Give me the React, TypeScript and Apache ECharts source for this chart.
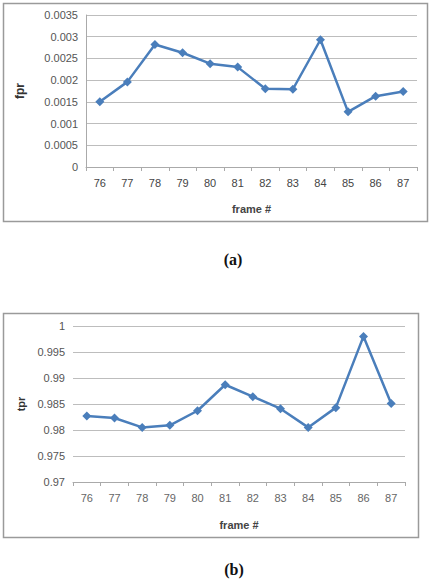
import React, { useEffect, useRef } from "react";
import * as echarts from "echarts";

const frames = ["76", "77", "78", "79", "80", "81", "82", "83", "84", "85", "86", "87"];
const fprValues = [0.0015, 0.00196, 0.00282, 0.00263, 0.00238, 0.0023, 0.0018, 0.00179, 0.00293, 0.00127, 0.00163, 0.00174];
const tprValues = [0.9827, 0.9823, 0.9805, 0.9809, 0.9837, 0.9887, 0.9864, 0.9841, 0.9805, 0.9843, 0.998, 0.9851];
const fprTicks = { min: 0, max: 0.0035, interval: 0.0005 };
const tprTicks = { min: 0.97, max: 1, interval: 0.005 };

const LINE = "#4a7ebb";
const GRID = "#bdbdbd";
const FONT = "Liberation Sans";

export default function App() {
  const ref = useRef<HTMLDivElement>(null);
  useEffect(() => {
    if (!ref.current) return;
    const chart = echarts.init(ref.current, undefined, { renderer: "svg" });
    const xAxisBase = (gridIndex: number, labelColor: string) => ({
      type: "category" as const,
      gridIndex,
      data: frames,
      boundaryGap: true,
      name: "frame #",
      nameLocation: "middle" as const,
      nameGap: 36,
      nameTextStyle: { fontFamily: FONT, fontSize: 11, fontWeight: "bold" as const, color: "#444" },
      axisLine: { show: true, lineStyle: { color: "#aaa", width: 1 } },
      axisTick: { show: true, alignWithLabel: false, length: 4, lineStyle: { color: "#aaa" } },
      axisLabel: { fontFamily: FONT, fontSize: 11, color: labelColor, margin: 10 },
      splitLine: { show: false },
    });
    chart.setOption({
      animation: false,
      grid: [
        { left: 86, top: 15, width: 331, height: 152 },
        { left: 73, top: 326, width: 332, height: 156 },
      ],
      xAxis: [xAxisBase(0, "#444"), { ...xAxisBase(1, "#666"), nameGap: 37 }],
      yAxis: [
        {
          type: "value",
          gridIndex: 0,
          ...fprTicks,
          name: "fpr",
          nameLocation: "middle",
          nameGap: 60,
          nameTextStyle: { fontFamily: FONT, fontSize: 12, fontWeight: "bold", color: "#333" },
          axisLine: { show: true, lineStyle: { color: "#aaa" } },
          axisTick: { show: false },
          axisLabel: {
            fontFamily: FONT,
            fontSize: 11,
            color: "#555",
            margin: 8,
            formatter: (v: number) => String(parseFloat(v.toFixed(4))),
          },
          splitLine: { show: true, lineStyle: { color: GRID, width: 1 } },
        },
        {
          type: "value",
          gridIndex: 1,
          ...tprTicks,
          name: "tpr",
          nameLocation: "middle",
          nameGap: 46,
          nameTextStyle: { fontFamily: FONT, fontSize: 11, fontWeight: "bold", color: "#333" },
          axisLine: { show: false },
          axisTick: { show: false },
          axisLabel: {
            fontFamily: FONT,
            fontSize: 11,
            color: "#555",
            margin: 8,
            formatter: (v: number) => String(parseFloat(v.toFixed(3))),
          },
          splitLine: { show: true, lineStyle: { color: GRID, width: 1 } },
        },
      ],
      series: [
        {
          type: "line",
          xAxisIndex: 0,
          yAxisIndex: 0,
          data: fprValues,
          symbol: "diamond",
          symbolSize: 9,
          lineStyle: { color: LINE, width: 2.5 },
          itemStyle: { color: LINE },
        },
        {
          type: "line",
          xAxisIndex: 1,
          yAxisIndex: 1,
          data: tprValues,
          symbol: "diamond",
          symbolSize: 9,
          lineStyle: { color: LINE, width: 2.5 },
          itemStyle: { color: LINE },
        },
      ],
      graphic: [
        {
          type: "rect",
          shape: { x: 3.5, y: 3.5, width: 424, height: 218 },
          style: { fill: "none", stroke: "#9a9a9a", lineWidth: 1.5 },
          silent: true,
        },
        {
          type: "rect",
          shape: { x: 3.5, y: 313.5, width: 415, height: 224 },
          style: { fill: "none", stroke: "#9a9a9a", lineWidth: 1.5 },
          silent: true,
        },
        {
          type: "text",
          x: 233,
          y: 259,
          style: {
            text: "(a)",
            font: "bold 16px 'Liberation Serif'",
            fill: "#111",
            align: "center",
            verticalAlign: "middle",
          },
        },
        {
          type: "text",
          x: 234,
          y: 569,
          style: {
            text: "(b)",
            font: "bold 16px 'Liberation Serif'",
            fill: "#111",
            align: "center",
            verticalAlign: "middle",
          },
        },
      ],
    });
    return () => chart.dispose();
  }, []);
  return (
    <div
      ref={ref}
      style={{ position: "fixed", left: 0, top: 0, width: 429, height: 579, background: "#fff" }}
    />
  );
}
